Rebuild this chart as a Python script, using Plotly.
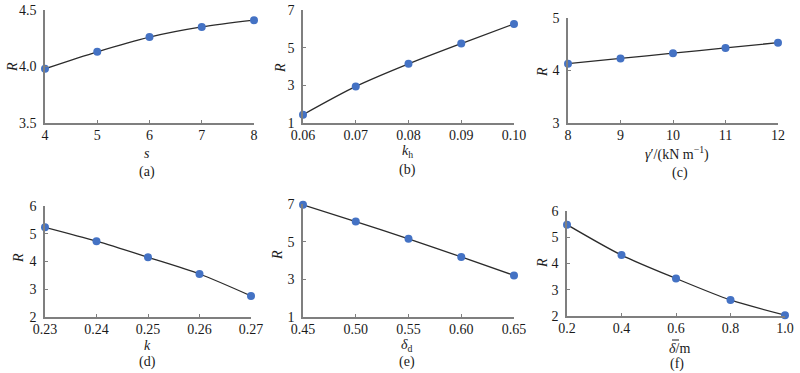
import plotly.graph_objects as go

W, H = 800, 373

# ---- data ----
s_vals = [4, 5, 6, 7, 8]
R_s = [3.98, 4.13, 4.26, 4.35, 4.41]

kh_vals = [0.06, 0.07, 0.08, 0.09, 0.10]
R_kh = [1.44, 2.94, 4.14, 5.22, 6.26]

gamma_vals = [8, 9, 10, 11, 12]
R_gamma = [4.13, 4.23, 4.33, 4.43, 4.53]

k_vals = [0.23, 0.24, 0.25, 0.26, 0.27]
R_k = [5.23, 4.73, 4.15, 3.55, 2.76]

dd_vals = [0.45, 0.50, 0.55, 0.60, 0.65]
R_dd = [6.96, 6.07, 5.15, 4.19, 3.21]

dbar_vals = [0.2, 0.4, 0.6, 0.8, 1.0]
R_dbar = [5.48, 4.32, 3.43, 2.61, 2.03]

panels = [
    dict(x=s_vals, y=R_s, xr=[4, 8], xt=[4, 5, 6, 7, 8], xtt=["4", "5", "6", "7", "8"],
         yr=[3.5, 4.5], yt=[3.5, 4.0, 4.5], ytt=["3.5", "4.0", "4.5"],
         box=(45, 254, 10, 123), xlab="<i>s</i>", xl=(147, 153), pl="(a)", pll=(147, 172), rl=(12, 67)),
    dict(x=kh_vals, y=R_kh, xr=[0.06, 0.10], xt=kh_vals, xtt=["0.06", "0.07", "0.08", "0.09", "0.10"],
         yr=[1, 7], yt=[1, 3, 5, 7], ytt=["1", "3", "5", "7"],
         box=(303, 514, 10, 123), xlab="<i>k</i><sub>h</sub>", xl=(407, 151), pl="(b)", pll=(407, 170), rl=(280, 68)),
    dict(x=gamma_vals, y=R_gamma, xr=[8, 12], xt=gamma_vals, xtt=["8", "9", "10", "11", "12"],
         yr=[3, 5], yt=[3, 4, 5], ytt=["3", "4", "5"],
         box=(568, 778, 18, 123), xlab="<i>γ</i>′/(kN m<sup>−1</sup>)", xl=(677, 153), pl="(c)", pll=(680, 173), rl=(542, 72)),
    dict(x=k_vals, y=R_k, xr=[0.23, 0.27], xt=k_vals, xtt=["0.23", "0.24", "0.25", "0.26", "0.27"],
         yr=[2, 6], yt=[2, 3, 4, 5, 6], ytt=["2", "3", "4", "5", "6"],
         box=(45, 251, 206, 317), xlab="<i>k</i>", xl=(147, 345), pl="(d)", pll=(147, 362), rl=(18, 258)),
    dict(x=dd_vals, y=R_dd, xr=[0.45, 0.65], xt=dd_vals, xtt=["0.45", "0.50", "0.55", "0.60", "0.65"],
         yr=[1, 7], yt=[1, 3, 5, 7], ytt=["1", "3", "5", "7"],
         box=(303, 514, 204, 317), xlab="<i>δ</i><sub>d</sub>", xl=(407, 345), pl="(e)", pll=(407, 362), rl=(277, 255)),
    dict(x=dbar_vals, y=R_dbar, xr=[0.2, 1.0], xt=dbar_vals, xtt=["0.2", "0.4", "0.6", "0.8", "1.0"],
         yr=[2, 6], yt=[2, 3, 4, 5, 6], ytt=["2", "3", "4", "5", "6"],
         box=(567, 785, 211, 316), xlab="<i>δ</i>/m", xl=(679, 348), pl="(f)", pll=(677, 364), rl=(542, 263)),
]

FONT = "Times New Roman"
FS = 14
AX = "#7f7f7f"
TXT = "#1a1a1a"

fig = go.Figure()
layout = dict(template="none", width=W, height=H, margin=dict(l=0, r=0, t=0, b=0, pad=0),
              paper_bgcolor="white", plot_bgcolor="white", showlegend=False,
              font=dict(family=FONT, size=FS, color=TXT))
annotations = []

for i, p in enumerate(panels):
    n = "" if i == 0 else str(i + 1)
    x0, x1, y0, y1 = p["box"]
    fig.add_trace(go.Scatter(
        x=p["x"], y=p["y"], mode="lines+markers",
        line=dict(color="#2b2b2b", width=1.3, shape="spline", smoothing=0.8),
        marker=dict(color="#4472C4", size=8, line=dict(width=0)),
        cliponaxis=False, hoverinfo="skip",
        xaxis="x" + n, yaxis="y" + n))
    layout["xaxis" + n] = dict(
        domain=[x0 / W, x1 / W], range=p["xr"], anchor="y" + n, automargin=False,
        tickvals=p["xt"], ticktext=p["xtt"], ticks="inside", ticklen=3,
        tickcolor=AX, showline=True, linecolor=AX, linewidth=1.5,
        ticklabelstandoff=-2,
        showgrid=False, zeroline=False, tickfont=dict(size=FS, family=FONT, color=TXT))
    layout["yaxis" + n] = dict(
        domain=[1 - y1 / H, 1 - y0 / H], range=p["yr"], anchor="x" + n, automargin=False,
        tickvals=p["yt"], ticktext=p["ytt"], ticks="inside", ticklen=3,
        tickcolor=AX, showline=True, linecolor=AX, linewidth=1.5,
        ticklabelstandoff=4,
        showgrid=False, zeroline=False, tickfont=dict(size=FS, family=FONT, color=TXT))
    annotations.append(dict(text=p["xlab"], x=p["xl"][0] / W, y=1 - p["xl"][1] / H,
                            xref="paper", yref="paper", showarrow=False,
                            xanchor="center", yanchor="middle", font=dict(size=FS, family=FONT, color=TXT)))
    annotations.append(dict(text=p["pl"], x=p["pll"][0] / W, y=1 - p["pll"][1] / H,
                            xref="paper", yref="paper", showarrow=False,
                            xanchor="center", yanchor="middle", font=dict(size=FS, family=FONT, color=TXT)))
    annotations.append(dict(text="<i>R</i>", x=p["rl"][0] / W, y=1 - p["rl"][1] / H,
                            xref="paper", yref="paper", showarrow=False, textangle=-90,
                            xanchor="center", yanchor="middle", font=dict(size=FS, family=FONT, color=TXT)))

layout["annotations"] = annotations
# overbar on delta in panel (f) label
layout["shapes"] = [dict(type="line", xref="paper", yref="paper",
                         x0=672 / W, x1=679 / W, y0=1 - 340 / H, y1=1 - 340 / H,
                         line=dict(color=TXT, width=1))]
fig.update_layout(**layout)
fig.write_html("out.html", config={"displayModeBar": False},
               post_script="document.body.style.margin='0';")
